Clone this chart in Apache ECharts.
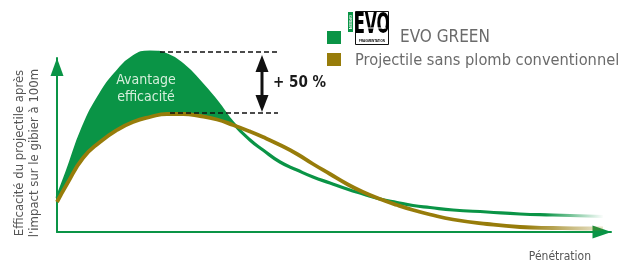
<!DOCTYPE html>
<html><head><meta charset="utf-8">
<script src="https://cdn.jsdelivr.net/npm/echarts@6/dist/echarts.min.js"></script>
<style>html,body{margin:0;padding:0;background:#fff}#c{width:623px;height:265px}</style>
</head><body><div id="c"></div>
<script>
// Penetration (arbitrary units) and efficiency (arbitrary units)
const penetration = [0,10,26,43,60,76,93,110,126,143,160,176,193,206,223,240,256,273,290,306,323,340,356,373,396,430,463,496,530,546];
const evoGreen    = [34,60,104,137,160,175,180,177,167,150,130,109,92,82,70,62,55,49,43,38,33,29.5,26.5,24.5,22,20,18,17,16,15.5];
const conventional= [30,48,74,90,102,110,115,118,118,116,112.5,107,100.5,95,87,78,68,58,48,40,33,27,22,17.5,12.5,8,5,4,3.5,3.5];
const seriesNames = ['EVO GREEN','Projectile sans plomb conventionnel'];
const crossIndex = 11; // last point before the curves cross

const GREEN = '#0a9446', BROWN = '#977c0a';
const FONT = '"Liberation Sans Narrow","DejaVu Sans Condensed","Liberation Sans",sans-serif';

const pair = (a, n) => penetration.slice(0, n || penetration.length).map((x,i)=>[x,a[i]]);

const chart = echarts.init(document.getElementById('c'), null, {renderer:'canvas'});
chart.setOption({
  animation:false,
  backgroundColor:'#fff',
  grid:{left:57, right:12, top:58, bottom:33},
  xAxis:{type:'value', min:0, max:554, z:2,
    axisLine:{show:true, onZero:false, lineStyle:{color:GREEN, width:2}, symbol:['none','triangle'], symbolSize:[13,19], symbolOffset:[0,-9]},
    axisTick:{show:false}, axisLabel:{show:false}, splitLine:{show:false}},
  yAxis:{type:'value', min:0, max:174, z:2,
    axisLine:{show:true, onZero:false, lineStyle:{color:GREEN, width:2}, symbol:['none','triangle'], symbolSize:[13,18], symbolOffset:[0,-9]},
    axisTick:{show:false}, axisLabel:{show:false}, splitLine:{show:false}},
  series:[
    // advantage area: green fill under EVO curve, then masked below the conventional curve
    {type:'line', name:'advFill', data:pair(evoGreen, crossIndex+1), smooth:0.5, symbol:'none', clip:false, lineStyle:{opacity:0}, areaStyle:{color:GREEN, opacity:1}, silent:true, z:1},
    {type:'line', name:'advMask', data:pair(conventional, crossIndex+1), smooth:0.5, symbol:'none', clip:false, lineStyle:{opacity:0}, areaStyle:{color:'#ffffff', opacity:1}, silent:true, z:1.5},
    {type:'line', name:seriesNames[0], data:pair(evoGreen), smooth:0.5, symbol:'none', clip:false, z:3,
      lineStyle:{width:3.2, color:{type:'linear', x:0, y:0, x2:623, y2:0, global:true,
        colorStops:[{offset:0,color:GREEN},{offset:545/623,color:GREEN},{offset:604/623,color:'rgba(10,148,70,0)'}]}}},
    {type:'line', name:seriesNames[1], data:pair(conventional), smooth:0.5, symbol:'none', clip:false, z:4,
      lineStyle:{width:3.8, color:{type:'linear', x:0, y:0, x2:623, y2:0, global:true,
        colorStops:[{offset:0,color:BROWN},{offset:525/623,color:BROWN},{offset:602/623,color:'rgba(151,124,10,0.2)'}]}}}
  ],
  graphic:[
    // dashed guides
    {type:'line', shape:{x1:160,y1:52,x2:278,y2:52}, style:{stroke:'#111', lineWidth:1.6, lineDash:[5,3]}, z:10},
    {type:'line', shape:{x1:170,y1:113,x2:278,y2:113}, style:{stroke:'#111', lineWidth:1.6, lineDash:[5,3]}, z:10},
    // double arrow
    {type:'line', shape:{x1:262,y1:68,x2:262,y2:99}, style:{stroke:'#111', lineWidth:3}, z:10},
    {type:'polygon', shape:{points:[[262,55],[268.5,72],[255.5,72]]}, style:{fill:'#111'}, z:10},
    {type:'polygon', shape:{points:[[262,112],[268.5,95],[255.5,95]]}, style:{fill:'#111'}, z:10},
    {type:'text', x:273, y:83, style:{text:'+ 50 %', font:'bold 15px '+FONT, fill:'#1a1a1a', verticalAlign:'middle'}, z:10},
    // advantage text
    {type:'text', x:146, y:88.5, style:{text:'Avantage\nefficacité', font:'14px '+FONT, fill:'#d6efdc', align:'center', verticalAlign:'middle', lineHeight:17}, z:10},
    // y axis title
    {type:'text', x:27, y:153, rotation:Math.PI/2, style:{text:"Efficacité du projectile après\nl'impact sur le gibier à 100m", font:'13px '+FONT, fill:'#555', align:'center', verticalAlign:'middle', lineHeight:15}, z:10},
    // x axis title
    {type:'text', x:591, y:257, style:{text:'Pénétration', font:'12px '+FONT, fill:'#555', align:'right', verticalAlign:'middle'}, z:10},
    // legend
    {type:'rect', shape:{x:327,y:31,width:14,height:13}, style:{fill:GREEN}, z:10},
    {type:'rect', shape:{x:327,y:53,width:14,height:13}, style:{fill:BROWN}, z:10},
    {type:'text', x:400, y:38, style:{text:seriesNames[0], font:'17px '+FONT, fill:'#6b6b6b', verticalAlign:'middle'}, z:10},
    {type:'text', x:355, y:61, style:{text:seriesNames[1], font:'16.3px '+FONT, fill:'#6b6b6b', verticalAlign:'middle'}, z:10},
    // logo
    {type:'rect', shape:{x:355.5,y:11.5,width:33,height:33}, style:{fill:'#fff', stroke:'#111', lineWidth:1}, z:10},
    {type:'rect', shape:{x:348,y:12,width:5,height:20}, style:{fill:GREEN}, z:10},
    {type:'text', x:350.5, y:22, rotation:-Math.PI/2, style:{text:'GREEN', font:'bold 4px sans-serif', fill:'#fff', align:'center', verticalAlign:'middle'}, z:11},
    {type:'text', x:372, y:26, scaleX:0.62, originX:0, originY:0, style:{text:'EVO', font:'bold 28px '+FONT, fill:'#000', align:'center', verticalAlign:'middle'}, z:11},
    {type:'line', shape:{x1:359,y1:28,x2:386,y2:28}, style:{stroke:'#fff', lineWidth:1}, z:12},
    {type:'text', x:372, y:41.5, style:{text:'FRAGMENTATION', font:'bold 3px sans-serif', fill:'#000', align:'center', verticalAlign:'middle'}, z:11}
  ]
});
</script></body></html>
